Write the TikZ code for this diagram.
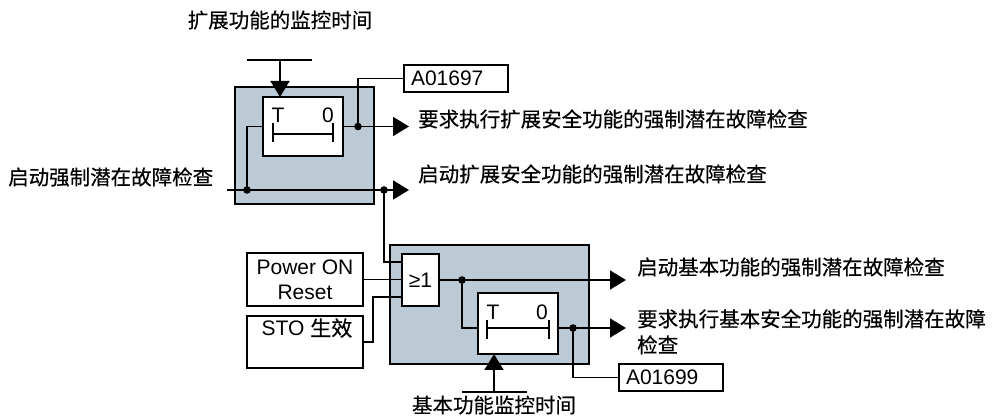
\documentclass[tikz,border=0pt]{standalone}
\usepackage{fontspec}
\setmainfont{Liberation Sans}
\newfontfamily\cjk[FakeBold=0.4]{Noto Sans CJK SC}
\usetikzlibrary{arrows.meta,calc}
\definecolor{panel}{RGB}{188,202,214}
\begin{document}
\begin{tikzpicture}[x=1pt,y=-1pt,
  ln/.style={line width=1.7pt},
  arr/.style={line width=1.7pt,-{Triangle[length=16pt,width=19pt]}},
  wbox/.style={draw,line width=1.7pt,fill=white,anchor=north west,inner sep=0pt,outer sep=0pt},
  gbox/.style={draw,line width=1.7pt,fill=panel,anchor=north west,inner sep=0pt,outer sep=0pt},
  zh/.style={font=\cjk\fontsize{20.5}{26}\selectfont,inner sep=0pt},
  lat/.style={font=\fontsize{21}{25}\selectfont,inner sep=0pt},
  jdot/.style={fill,radius=3.8pt}]
\useasboundingbox (0,0) rectangle (996,419);

% ---------- upper block ----------
\node[gbox,minimum width=139pt,minimum height=117pt] (gA) at (235,87) {};
\node[wbox,minimum width=80pt,minimum height=59pt] (tA) at (263,97) {};
\node[lat] (tAT) at (278,115) {T};
\node[lat] (tA0) at (328,115) {0};
\draw[ln] (273,123)--(273,142) (333,123)--(333,142) (273,134)--(333,134);
\node[wbox,minimum height=27pt,text width=90pt,inner xsep=7pt,align=left,font=\fontsize{21}{25}\selectfont] (a1697) at (404,65) {A01697};

\coordinate (tbA1) at (247,60);
\coordinate (tbA2) at (312,60);
\coordinate (tbA) at (280,60);
\draw[ln] (tbA1) -- (tbA2);
\draw[arr] (tbA) -- (tA.north -| tbA);

\coordinate (inL) at (227,190);
\coordinate (oA) at (409,190);
\coordinate (jA1) at (247,190);
\coordinate (jA2) at (358,126.5);
\coordinate (jA3) at (384,190);
\draw[arr] (inL) -- (oA);
\draw[ln] (jA1) |- (tA.west);
\draw[arr] (tA.east) -- (tA.east -| oA);
\draw[ln] (jA2) |- (a1697.west);
\fill[jdot] (jA1) circle;
\fill[jdot] (jA2) circle;
\fill[jdot] (jA3) circle;

% ---------- lower block ----------
\node[gbox,minimum width=199pt,minimum height=119pt] (gB) at (390,245) {};
\node[wbox,minimum width=37pt,minimum height=52pt,font=\fontsize{21}{25}\selectfont] (or) at (402,254) {≥1};
\node[wbox,minimum width=116pt,minimum height=53pt,align=center,font=\fontsize{21}{25}\selectfont] (pwr) at (247,253) {Power ON\\Reset};
\node[wbox,minimum width=116pt,minimum height=52pt] (sto) at (247,316) {};
\node[lat] (stolbl) at (307,328) {STO {\cjk 生效}};
\node[wbox,minimum width=80pt,minimum height=61pt] (tB) at (478,293) {};
\node[lat] (tBT) at (493,312) {T};
\node[lat] (tB0) at (542,312) {0};
\draw[ln] (487,320)--(487,339) (549,320)--(549,339) (487,328)--(549,328);
\node[wbox,minimum height=27pt,text width=90pt,inner xsep=7pt,align=left,font=\fontsize{21}{25}\selectfont] (a1699) at (619,364) {A01699};

\coordinate (or1) at (402,262);
\coordinate (or3) at (402,297);
\coordinate (stoK) at (373,340);
\coordinate (oB) at (626,0);
\coordinate (jB1) at (462,280);
\coordinate (tBin) at (478,328);
\coordinate (tBout) at (558,328);
\coordinate (jB2) at (573,328);
\draw[ln] (jA3) |- (or1);
\draw[ln] (pwr.east) -- (pwr.east -| or.west);
\draw[ln] (sto.east) -| (stoK) |- (or3);
\draw[arr] (or.east) -- (or.east -| oB);
\draw[ln] (jB1) |- (tBin);
\draw[arr] (tBout) -- (tBout -| oB);
\draw[ln] (jB2) |- (a1699.west);
\fill[jdot] (jB1) circle;
\fill[jdot] (jB2) circle;

\coordinate (tbB1) at (462,392);
\coordinate (tbB2) at (527,392);
\coordinate (tbB) at (494,392);
\draw[ln] (tbB1) -- (tbB2);
\draw[arr] (tbB) -- (tB.south -| tbB);

% ---------- labels ----------
\node[zh] (ttlA) at (280,20) {扩展功能的监控时间};
\node[zh,anchor=west] (inlbl) at (8,177) {启动强制潜在故障检查};
\node[zh,anchor=west] (outA1) at (418,119) {要求执行扩展安全功能的强制潜在故障检查};
\node[zh,anchor=west] (outA2) at (418,174) {启动扩展安全功能的强制潜在故障检查};
\node[zh,anchor=west] (outB1) at (637,267) {启动基本功能的强制潜在故障检查};
\node[zh,anchor=north west,align=left] (outB2) at (637,309) {要求执行基本安全功能的强制潜在故障\\检查};
\node[zh] (btlbl) at (494,405) {基本功能监控时间};
\end{tikzpicture}
\end{document}
